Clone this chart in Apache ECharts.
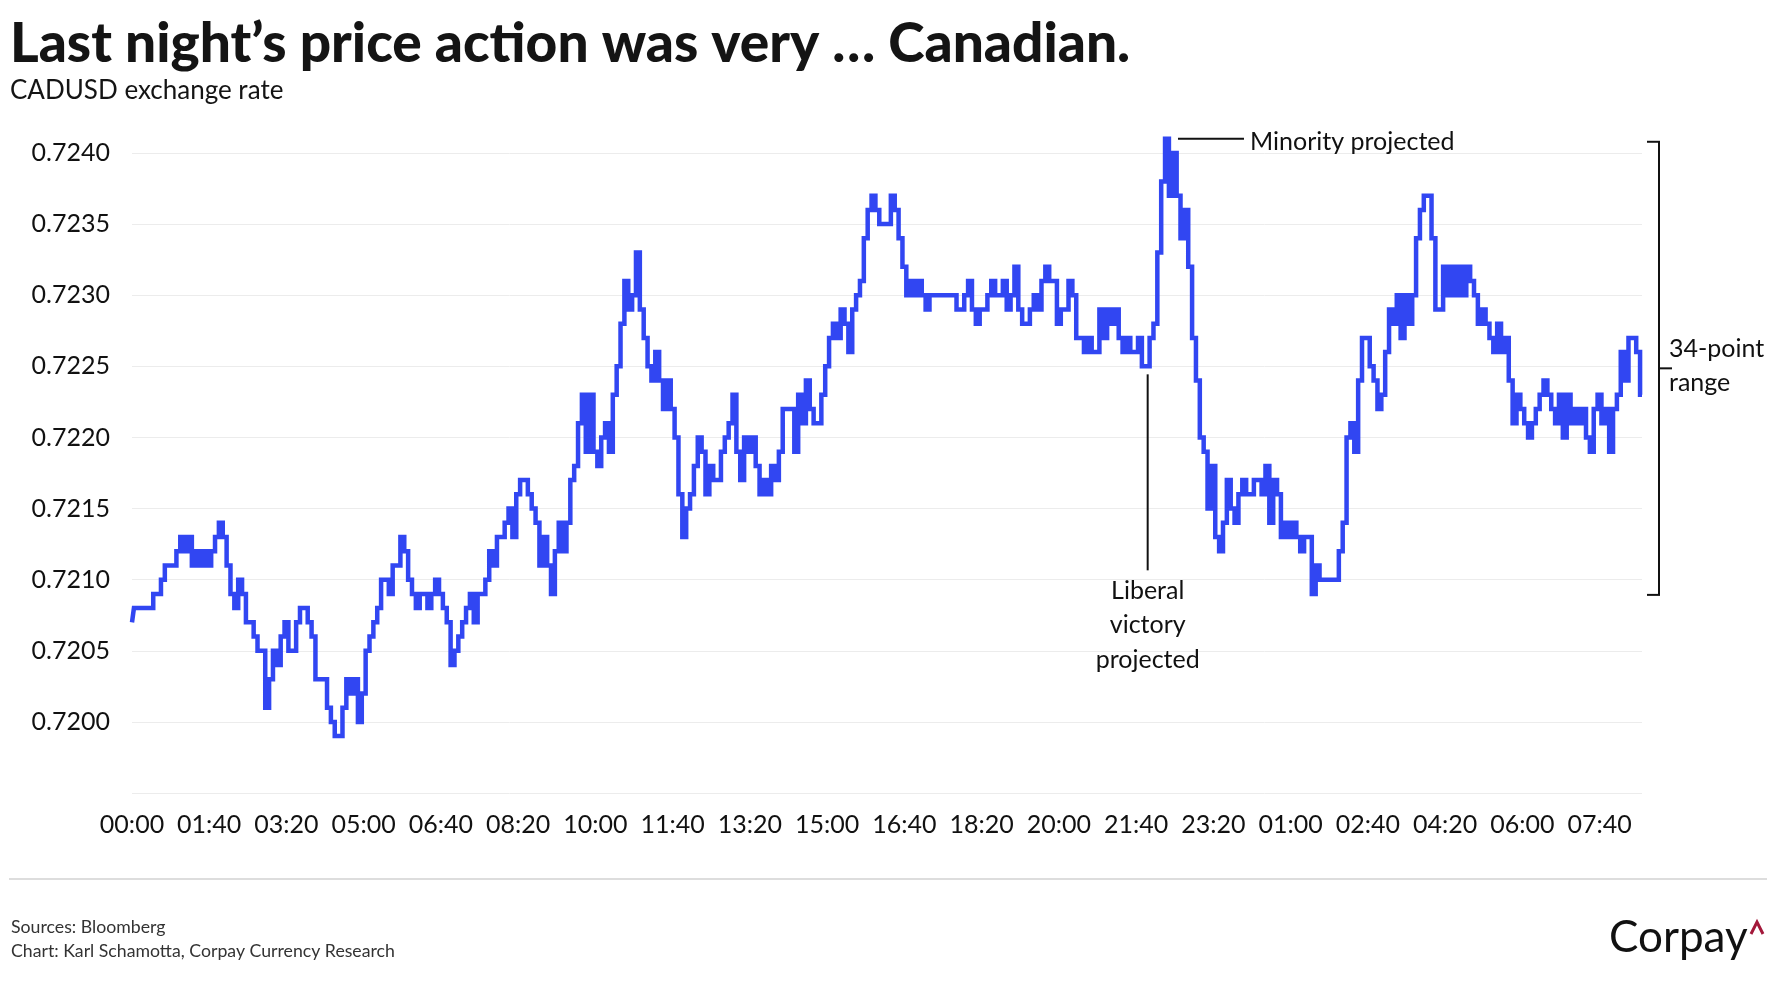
<!DOCTYPE html>
<html>
<head>
<meta charset="utf-8">
<script src="https://cdn.jsdelivr.net/npm/echarts@6/dist/echarts.min.js"></script>
<style>
html,body{margin:0;padding:0;background:#fff;}
#chart{width:1779px;height:1000px;}
</style>
</head>
<body>
<div id="chart"></div>
<script>
// CADUSD exchange rate, 5-minute readings, one array per 100-minute block
const b0000 = [0.7207,0.7208,0.7208,0.7208,0.7208,0.7208,0.7209,0.7209,0.7210,0.7211,0.7211,0.7211,0.7212,0.7213,0.7212,0.7213,0.7211,0.7212,0.7211,0.7212];
const b0140 = [0.7211,0.7212,0.7213,0.7214,0.7213,0.7211,0.7209,0.7208,0.7210,0.7209,0.7207,0.7207,0.7206,0.7205,0.7205,0.7201,0.7203,0.7205,0.7204,0.7206];
const b0320 = [0.7207,0.7205,0.7205,0.7207,0.7208,0.7208,0.7207,0.7206,0.7203,0.7203,0.7203,0.7201,0.7200,0.7199,0.7199,0.7201,0.7203,0.7202,0.7203,0.7200];
const b0500 = [0.7202,0.7205,0.7206,0.7207,0.7208,0.7210,0.7210,0.7209,0.7211,0.7211,0.7213,0.7212,0.7210,0.7209,0.7208,0.7209,0.7209,0.7208,0.7209,0.7210];
const b0640 = [0.7209,0.7208,0.7207,0.7204,0.7205,0.7206,0.7207,0.7208,0.7209,0.7207,0.7209,0.7209,0.7210,0.7212,0.7211,0.7213,0.7213,0.7214,0.7215,0.7213];
const b0820 = [0.7216,0.7217,0.7217,0.7216,0.7215,0.7214,0.7211,0.7213,0.7211,0.7209,0.7212,0.7214,0.7212,0.7214,0.7217,0.7218,0.7221,0.7223,0.7219,0.7223];
const b1000 = [0.7219,0.7218,0.7220,0.7221,0.7219,0.7223,0.7225,0.7228,0.7231,0.7229,0.7230,0.7233,0.7229,0.7227,0.7225,0.7224,0.7226,0.7224,0.7222,0.7224];
const b1140 = [0.7222,0.7220,0.7216,0.7213,0.7215,0.7216,0.7218,0.7220,0.7219,0.7216,0.7218,0.7217,0.7217,0.7219,0.7220,0.7221,0.7223,0.7219,0.7217,0.7220];
const b1320 = [0.7219,0.7220,0.7218,0.7216,0.7217,0.7216,0.7218,0.7217,0.7219,0.7222,0.7222,0.7222,0.7219,0.7223,0.7221,0.7224,0.7222,0.7221,0.7221,0.7223];
const b1500 = [0.7225,0.7227,0.7228,0.7227,0.7229,0.7228,0.7226,0.7229,0.7230,0.7231,0.7234,0.7236,0.7237,0.7236,0.7235,0.7235,0.7235,0.7237,0.7236,0.7234];
const b1640 = [0.7232,0.7230,0.7231,0.7230,0.7231,0.7230,0.7229,0.7230,0.7230,0.7230,0.7230,0.7230,0.7230,0.7230,0.7229,0.7229,0.7230,0.7231,0.7229,0.7228];
const b1820 = [0.7229,0.7229,0.7230,0.7231,0.7230,0.7230,0.7231,0.7229,0.7230,0.7232,0.7229,0.7228,0.7228,0.7229,0.7230,0.7229,0.7231,0.7232,0.7231,0.7231];
const b2000 = [0.7228,0.7229,0.7229,0.7231,0.7230,0.7227,0.7227,0.7226,0.7227,0.7226,0.7226,0.7229,0.7227,0.7229,0.7228,0.7229,0.7227,0.7226,0.7227,0.7226];
const b2140 = [0.7226,0.7227,0.7225,0.7225,0.7227,0.7228,0.7233,0.7238,0.7241,0.7237,0.7240,0.7237,0.7234,0.7236,0.7232,0.7227,0.7224,0.7220,0.7219,0.7215];
const b2320 = [0.7218,0.7213,0.7212,0.7214,0.7217,0.7215,0.7214,0.7216,0.7217,0.7216,0.7216,0.7217,0.7217,0.7216,0.7218,0.7214,0.7217,0.7216,0.7213,0.7214];
const b0100 = [0.7213,0.7214,0.7213,0.7212,0.7213,0.7213,0.7209,0.7211,0.7210,0.7210,0.7210,0.7210,0.7210,0.7212,0.7214,0.7220,0.7221,0.7219,0.7224,0.7227];
const b0240 = [0.7227,0.7225,0.7224,0.7222,0.7223,0.7226,0.7229,0.7228,0.7230,0.7227,0.7230,0.7228,0.7230,0.7234,0.7236,0.7237,0.7237,0.7234,0.7229,0.7229];
const b0420 = [0.7232,0.7230,0.7232,0.7230,0.7232,0.7230,0.7232,0.7231,0.7230,0.7228,0.7229,0.7228,0.7227,0.7226,0.7228,0.7226,0.7227,0.7224,0.7221,0.7223];
const b0600 = [0.7222,0.7221,0.7220,0.7221,0.7222,0.7223,0.7224,0.7223,0.7222,0.7221,0.7223,0.7220,0.7223,0.7221,0.7222,0.7221,0.7222,0.7220,0.7219,0.7222];
const b0740 = [0.7223,0.7221,0.7222,0.7219,0.7222,0.7223,0.7226,0.7224,0.7227,0.7227,0.7226,0.7223];

const tickLabels = ['00:00','01:40','03:20','05:00','06:40','08:20','10:00','11:40','13:20','15:00','16:40','18:20','20:00','21:40','23:20','01:00','02:40','04:20','06:00','07:40'];
const stepMinutes = 5;
const pointsPerTick = 20;

const rate = [].concat(b0000,b0140,b0320,b0500,b0640,b0820,b1000,b1140,b1320,b1500,b1640,b1820,b2000,b2140,b2320,b0100,b0240,b0420,b0600,b0740);
const categories = rate.map(function(_, i){
  const m = (i * stepMinutes) % 1440;
  const h = Math.floor(m / 60), mm = m % 60;
  return (h < 10 ? '0' : '') + h + ':' + (mm < 10 ? '0' : '') + mm;
});

// annotation anchors (data values)
const liberalIndex = 263, liberalValue = 0.7225;
const minorityIndex = 268, minorityValue = 0.7241;
const rangeTop = 0.7241, rangeBottom = 0.7209;

const FONT = 'Lato, "Open Sans", sans-serif';
const chart = echarts.init(document.getElementById('chart'), null, {renderer: 'canvas'});

chart.setOption({
  backgroundColor: '#ffffff',
  animation: false,
  grid: {left: 132, right: 137, top: 153, bottom: 207, containLabel: false},
  xAxis: {
    type: 'category',
    data: categories,
    boundaryGap: false,
    axisLine: {show: false},
    axisTick: {show: false},
    splitLine: {show: false},
    axisLabel: {
      interval: function(i){ return i % pointsPerTick === 0; },
      formatter: function(v, i){ return tickLabels[i / pointsPerTick] || ''; },
      fontFamily: FONT, fontSize: 25, color: '#111', margin: 19
    }
  },
  yAxis: {
    type: 'value',
    min: 0.7195, max: 0.7240, interval: 0.0005,
    axisLine: {show: false},
    axisTick: {show: false},
    splitLine: {lineStyle: {color: '#ececec', width: 1}},
    axisLabel: {
      formatter: function(v){ return Math.abs(v - 0.7195) < 1e-7 ? '' : v.toFixed(4); },
      fontFamily: FONT, fontSize: 25, color: '#111', margin: 22
    }
  },
  series: [{
    type: 'line',
    data: rate,
    step: 'middle',
    clip: false,
    showSymbol: false,
    lineStyle: {color: '#3146f2', width: 4.5, join: 'miter', miterLimit: 4},
    z: 5
  }]
});

function px(i, v){ return chart.convertToPixel({gridIndex: 0}, [i, v]); }
const gridRect = chart.getModel().getComponent('grid').coordinateSystem.getRect();
const gRight = gridRect.x + gridRect.width;

const lib = px(liberalIndex, liberalValue);
const mino = px(minorityIndex, minorityValue);
const rTop = px(0, rangeTop)[1] + 3;
const rBot = px(0, rangeBottom)[1] + 1;
const rMid = (rTop + rBot) / 2;
const bx = gRight + 17;
const blk = '#111';

const txt = function(x, y, s, opt){
  return {type: 'text', x: x, y: y, style: Object.assign({text: s, fill: blk, font: '25px ' + FONT, textAlign: 'left', textVerticalAlign: 'middle'}, opt || {})};
};
const ln = function(x1, y1, x2, y2, color, w){
  return {type: 'line', shape: {x1: x1, y1: y1, x2: x2, y2: y2}, style: {stroke: color || blk, lineWidth: w || 2}};
};

chart.setOption({
  graphic: [
    txt(10, 44, 'Last night’s price action was very … Canadian.', {font: '900 55px ' + FONT, fill: '#141414'}),
    txt(10, 91, 'CADUSD exchange rate', {font: '26px ' + FONT, fill: '#141414'}),
    // Minority annotation
    ln(mino[0] + 11, mino[1], mino[0] + 77, mino[1]),
    txt(mino[0] + 83, mino[1] + 3, 'Minority projected'),
    // Liberal annotation
    ln(lib[0], lib[1] + 8, lib[0], lib[1] + 204),
    txt(lib[0], lib[1] + 225, 'Liberal', {textAlign: 'center'}),
    txt(lib[0], lib[1] + 259, 'victory', {textAlign: 'center'}),
    txt(lib[0], lib[1] + 294, 'projected', {textAlign: 'center'}),
    // range bracket
    ln(bx, rTop, bx, rBot),
    ln(bx - 12, rTop, bx + 1, rTop),
    ln(bx - 12, rBot, bx + 1, rBot),
    ln(bx, rMid, bx + 13, rMid),
    txt(bx + 10, rMid - 19, '34-point'),
    txt(bx + 10, rMid + 15, 'range'),
    // footer
    ln(9, 879, 1767, 879, '#dddddd', 2),
    txt(11, 927, 'Sources: Bloomberg', {font: '17.7px ' + FONT, fill: '#333'}),
    txt(11, 951, 'Chart: Karl Schamotta, Corpay Currency Research', {font: '17.7px ' + FONT, fill: '#333'}),
    txt(1609, 938, 'Corpay', {font: '44px ' + FONT, fill: '#111'}),
    {type: 'polyline', shape: {points: [[1751, 934], [1757, 922], [1763, 934]]}, style: {stroke: '#a3183a', lineWidth: 3, fill: null}}
  ]
});
</script>
</body>
</html>
